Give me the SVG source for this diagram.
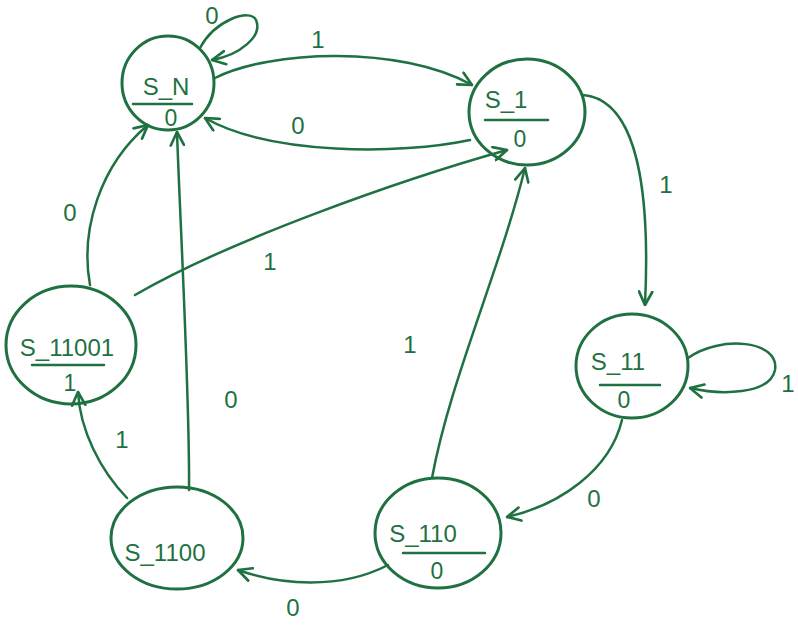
<svg xmlns="http://www.w3.org/2000/svg" width="798" height="626" viewBox="0 0 798 626">
  <style>
    .st { fill: none; stroke: #1f7142; stroke-width: 3; }
    .bar { stroke: #1f7142; stroke-width: 2.5; stroke-linecap: round; }
    .edge { fill: none; stroke: #1f7142; stroke-width: 2.5; stroke-linecap: round; marker-end: url(#arr); }
    .name { font-family: "Liberation Sans", Arial, sans-serif; font-size: 24px; fill: #1f7142; text-anchor: middle; }
    .out { font-family: "Liberation Sans", Arial, sans-serif; font-size: 23px; fill: #1f7142; text-anchor: middle; }
    .lbl { font-family: "Liberation Sans", Arial, sans-serif; font-size: 24px; fill: #1f7142; text-anchor: middle; }
  </style>
  <defs>
    <marker id="arr" viewBox="0 0 12 12" refX="11" refY="6" markerWidth="16" markerHeight="16" markerUnits="userSpaceOnUse" orient="auto">
      <path d="M1,1 L11,6 L1,11" fill="none" stroke="#1f7142" stroke-width="2" stroke-linecap="round" stroke-linejoin="round"/>
    </marker>
  </defs>
  <rect width="798" height="626" fill="#ffffff"/>

  <!-- states: name above a bar, output below -->
  <g id="S_N">
    <ellipse class="st" cx="168" cy="83" rx="46" ry="47"/>
    <text class="name" x="166" y="95">S_N</text>
    <line class="bar" x1="133" y1="104" x2="192" y2="104"/>
    <text class="out" x="171" y="126">0</text>
  </g>
  <g id="S_1">
    <ellipse class="st" cx="527" cy="112" rx="58" ry="53"/>
    <text class="name" x="506" y="108">S_1</text>
    <line class="bar" x1="485" y1="120" x2="548" y2="120"/>
    <text class="out" x="520" y="147">0</text>
  </g>
  <g id="S_11">
    <ellipse class="st" cx="632" cy="366" rx="56" ry="52"/>
    <text class="name" x="618" y="370">S_11</text>
    <line class="bar" x1="600" y1="385" x2="660" y2="385"/>
    <text class="out" x="624" y="408">0</text>
  </g>
  <g id="S_110">
    <ellipse class="st" cx="438" cy="533" rx="63" ry="55"/>
    <text class="name" x="423" y="542">S_110</text>
    <line class="bar" x1="403" y1="553" x2="485" y2="553"/>
    <text class="out" x="437" y="579">0</text>
  </g>
  <g id="S_1100">
    <ellipse class="st" cx="177" cy="538" rx="66" ry="51"/>
    <text class="name" x="165" y="561">S_1100</text>
  </g>
  <g id="S_11001">
    <ellipse class="st" cx="71" cy="345" rx="65" ry="59"/>
    <text class="name" x="67" y="356">S_11001</text>
    <line class="bar" x1="32" y1="365" x2="104" y2="365"/>
    <text class="out" x="70" y="391">1</text>
  </g>

  <!-- transitions -->
  <g id="connectors">
    <path class="edge" d="M200,48 C215,20 250,8 256,20 C263,36 240,55 212,60"/>
    <path class="edge" d="M215,78 C270,50 400,45 472,85"/>
    <path class="edge" d="M470,140 C400,155 270,155 205,118"/>
    <path class="edge" d="M583,95 C640,100 650,200 645,305"/>
    <path class="edge" d="M688,358 C720,335 780,340 775,370 C770,395 720,395 690,388"/>
    <path class="edge" d="M622,420 C610,470 560,505 507,517"/>
    <path class="edge" d="M388,565 C340,590 280,585 238,570"/>
    <path class="edge" d="M127,498 C100,470 80,430 78,392"/>
    <path class="edge" d="M90,285 C80,230 100,165 148,125"/>
    <path class="edge" d="M189,490 C190,400 180,220 177,132"/>
    <path class="edge" d="M432,478 C450,380 500,270 525,168"/>
    <path class="edge" d="M135,295 C230,240 400,180 507,150"/>
  </g>

  <!-- transition inputs -->
  <g id="labels">
    <text class="lbl" x="212" y="24">0</text>
    <text class="lbl" x="318" y="48">1</text>
    <text class="lbl" x="298" y="134">0</text>
    <text class="lbl" x="666" y="193">1</text>
    <text class="lbl" x="788" y="392">1</text>
    <text class="lbl" x="594" y="507">0</text>
    <text class="lbl" x="293" y="616">0</text>
    <text class="lbl" x="122" y="448">1</text>
    <text class="lbl" x="70" y="221">0</text>
    <text class="lbl" x="231" y="408">0</text>
    <text class="lbl" x="410" y="353">1</text>
    <text class="lbl" x="270" y="270">1</text>
  </g>
</svg>
